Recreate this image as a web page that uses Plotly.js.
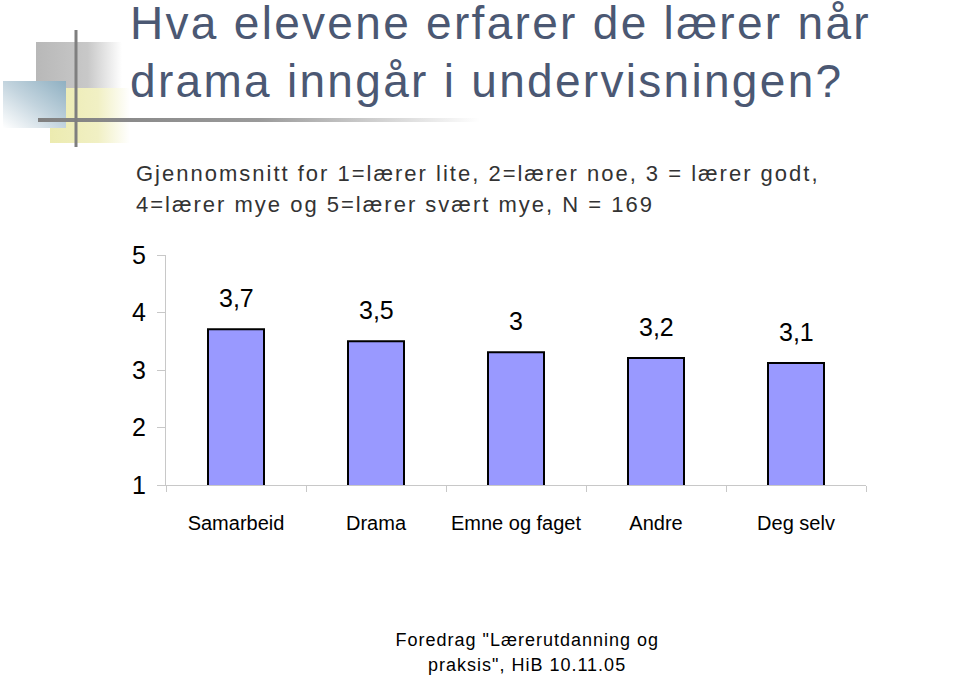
<!DOCTYPE html>
<html>
<head>
<meta charset="utf-8">
<script src="https://cdn.plot.ly/plotly-3.0.1.min.js"></script>
<style>html,body{margin:0;padding:0;background:#fff;}#chart{width:960px;height:676px;}</style>
</head>
<body>
<div id="chart"></div>
<script>
const categories = ["Samarbeid", "Drama", "Emne og faget", "Andre", "Deg selv"];
const values = [3.71, 3.50, 3.31, 3.21, 3.12];
const valueLabels = ["3,7", "3,5", "3", "3,2", "3,1"];
const yTicks = [1, 2, 3, 4, 5];
const titleLines = ["Hva elevene erfarer de lærer når", "drama inngår i undervisningen?"];
const subtitleLines = ["Gjennomsnitt for 1=lærer lite, 2=lærer noe, 3 = lærer godt,", "4=lærer mye og 5=lærer svært mye, N = 169"];
const footerLines = ["Foredrag \"Lærerutdanning og", "praksis\", HiB 10.11.05"];

function svgUri(svg){ return "data:image/svg+xml;charset=utf-8," + encodeURIComponent(svg); }

const graySq = svgUri('<svg xmlns="http://www.w3.org/2000/svg" width="100" height="100"><defs><linearGradient id="g" x1="0" y1="0" x2="1" y2="0"><stop offset="0" stop-color="#b8b8b8"/><stop offset="0.6" stop-color="#c8c8c8"/><stop offset="1" stop-color="#ffffff"/></linearGradient></defs><rect width="100" height="100" fill="url(#g)"/></svg>');
const yellowSq = svgUri('<svg xmlns="http://www.w3.org/2000/svg" width="100" height="100"><defs><linearGradient id="g" x1="0" y1="0" x2="1" y2="0"><stop offset="0" stop-color="#ecebb0"/><stop offset="0.6" stop-color="#f1f0c4"/><stop offset="1" stop-color="#ffffff"/></linearGradient></defs><rect width="100" height="100" fill="url(#g)"/></svg>');
const blueSq = svgUri('<svg xmlns="http://www.w3.org/2000/svg" width="100" height="100"><defs><linearGradient id="g" x1="1" y1="0" x2="0" y2="1"><stop offset="0" stop-color="#8fb0c2"/><stop offset="0.5" stop-color="#c3d4de"/><stop offset="1" stop-color="#ffffff"/></linearGradient></defs><rect width="100" height="100" fill="url(#g)"/></svg>');
const hLine = svgUri('<svg xmlns="http://www.w3.org/2000/svg" width="100" height="10" preserveAspectRatio="none"><defs><linearGradient id="g" x1="0" y1="0" x2="1" y2="0"><stop offset="0" stop-color="#808080"/><stop offset="0.5" stop-color="#9a9a9a"/><stop offset="1" stop-color="#ffffff"/></linearGradient></defs><rect width="100" height="10" fill="url(#g)"/></svg>');

const W = 960, H = 676;
const PL = 166, PR = 866, PT = 255, PB = 485;
function px(x){ return (x - PL) / (PR - PL); }
function py(y){ return (PB - y) / (PB - PT); }
function img(src, x0, y0, x1, y1){
  return {source: src, xref: "paper", yref: "paper", x: px(x0), y: py(y0),
          sizex: px(x1) - px(x0), sizey: py(y0) - py(y1), sizing: "stretch",
          xanchor: "left", yanchor: "top", layer: "below"};
}

const spacing = {};
const annotations = [];
categories.forEach((c, i) => {
  annotations.push({x: c, y: values[i], xref: "x", yref: "y", text: valueLabels[i],
    showarrow: false, yanchor: "middle", yshift: 31,
    font: {family: "Liberation Sans, Arial, sans-serif", size: 25, color: "#000"}});
});
titleLines.forEach((t, i) => {
  spacing[t] = "2.3px";
  annotations.push({xref: "paper", yref: "paper", x: px(128), y: py(23 + i * 58), text: t,
    showarrow: false, xanchor: "left", yanchor: "middle", align: "left",
    font: {family: "Liberation Sans, Arial, sans-serif", size: 46, color: "#4b5873"}});
});
subtitleLines.forEach((t, i) => {
  spacing[t] = "2px";
  annotations.push({xref: "paper", yref: "paper", x: px(134), y: py(173 + i * 31), text: t,
    showarrow: false, xanchor: "left", yanchor: "middle", align: "left",
    font: {family: "Liberation Sans, Arial, sans-serif", size: 22, color: "#333"}});
});
footerLines.forEach((t, i) => {
  spacing[t] = "1px";
  annotations.push({xref: "paper", yref: "paper", x: px(527), y: py(640 + i * 25), text: t,
    showarrow: false, xanchor: "center", yanchor: "middle",
    font: {family: "Liberation Sans, Arial, sans-serif", size: 18, color: "#000"}});
});

const trace = {
  type: "bar", x: categories, y: values, width: 0.4,
  marker: {color: "#9999ff", line: {color: "#000", width: 2}},
  hoverinfo: "none"
};

const layout = {
  width: W, height: H,
  paper_bgcolor: "#fff", plot_bgcolor: "#fff",
  showlegend: false,
  margin: {l: PL, r: W - PR, t: PT, b: H - PB, pad: 0},
  xaxis: {
    type: "category", showgrid: false, zeroline: false,
    showline: true, linecolor: "#c8c8c8", linewidth: 1,
    ticks: "outside", tickson: "boundaries", ticklen: 6, tickcolor: "#c8c8c8",
    tickangle: 0,
    tickfont: {family: "Liberation Sans, Arial, sans-serif", size: 20, color: "#000"},
    ticklabelstandoff: 20, fixedrange: true
  },
  yaxis: {
    range: [1, 5], tickvals: yTicks, ticktext: yTicks.map(String),
    showgrid: false, zeroline: false,
    showline: true, linecolor: "#c8c8c8", linewidth: 1,
    ticks: "outside", ticklen: 8, tickcolor: "#c8c8c8",
    tickfont: {family: "Liberation Sans, Arial, sans-serif", size: 25, color: "#000"},
    ticklabelstandoff: 6, fixedrange: true
  },
  images: [
    img(graySq, 36, 42, 122, 122),
    img(yellowSq, 50, 88, 130, 143),
    img(blueSq, 3, 81, 66, 128),
    img(hLine, 38, 118, 480, 122)
  ],
  shapes: [
    {type: "line", xref: "paper", yref: "paper", x0: px(76), x1: px(76), y0: py(30), y1: py(147),
     line: {color: "#7f7f7f", width: 3}}
  ],
  annotations: annotations
};

Plotly.newPlot("chart", [trace], layout, {staticPlot: true, displayModeBar: false}).then(gd => {
  gd.querySelectorAll("text.annotation-text").forEach(el => {
    const s = spacing[el.textContent];
    if (s) el.style.letterSpacing = s;
  });
});
</script>
</body>
</html>
